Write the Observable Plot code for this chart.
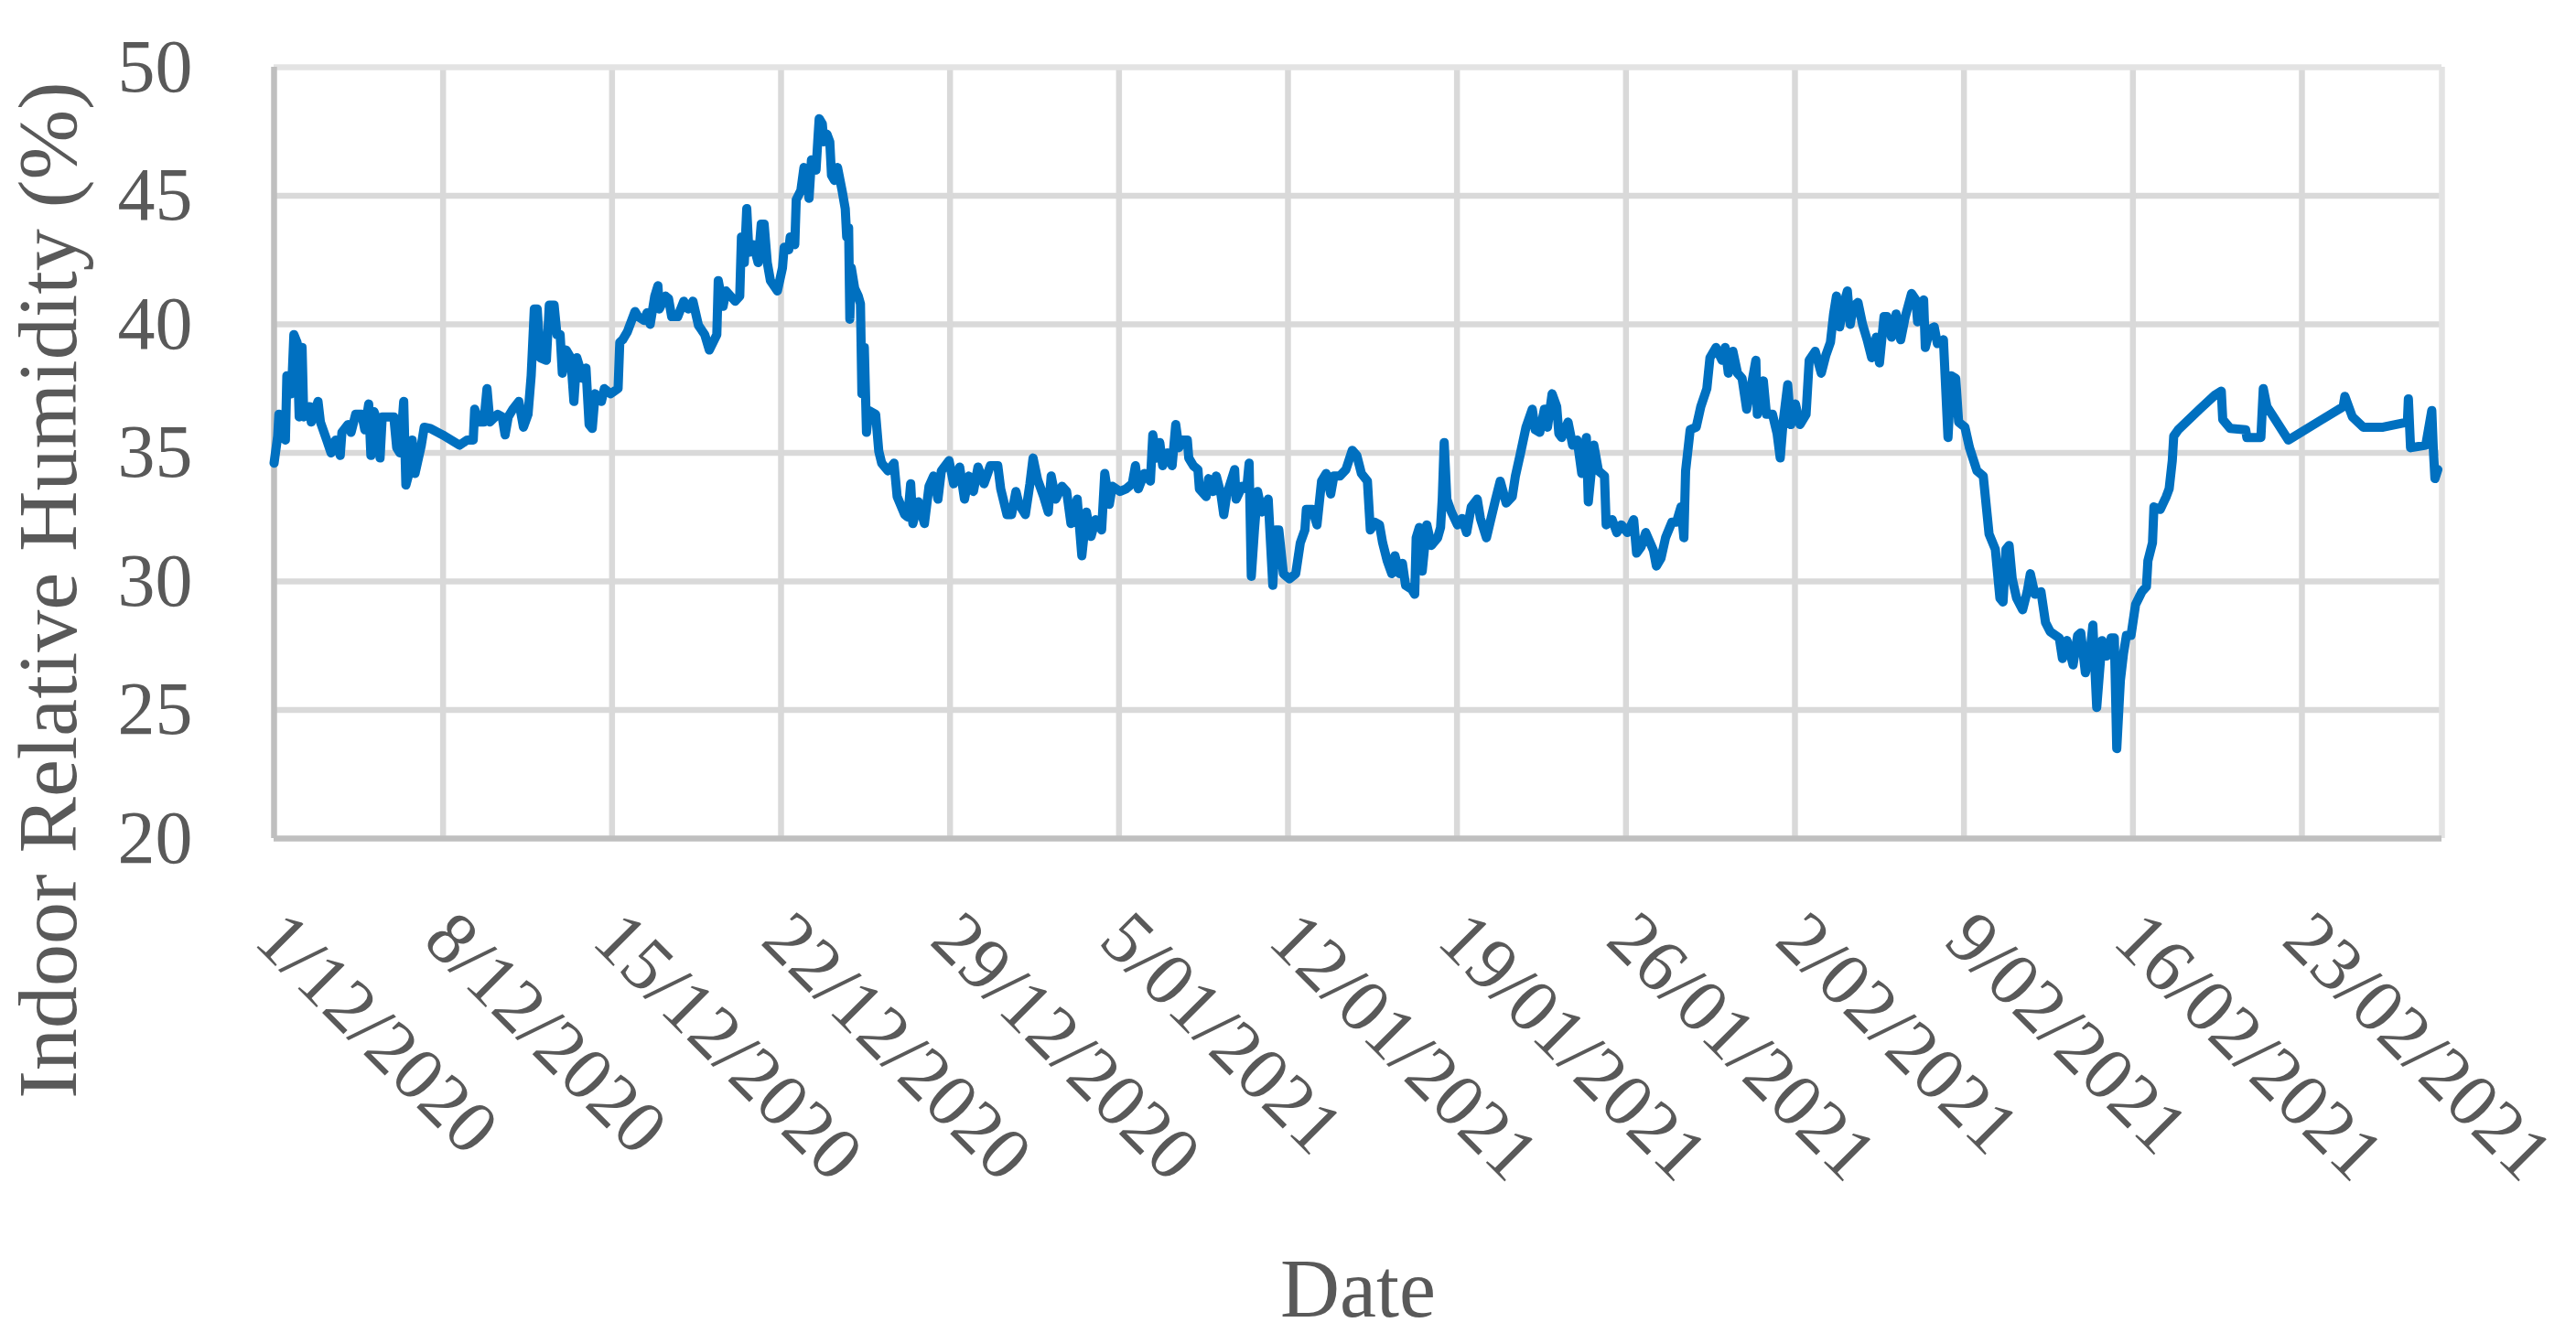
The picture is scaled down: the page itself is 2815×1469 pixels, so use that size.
<!DOCTYPE html>
<html>
<head>
<meta charset="utf-8">
<script src="https://cdn.jsdelivr.net/npm/d3@7"></script>
<script src="https://cdn.jsdelivr.net/npm/@observablehq/plot@0.6"></script>
<style>
  html, body { margin: 0; padding: 0; background: #ffffff; }
  #chart svg { display: block; }
</style>
</head>
<body>
<div id="chart"></div>
<script>
// ---- Data ----
// days elapsed since 1/12/2020 00:00
const dayOffsets = [
  0, 0.15, 0.2, 0.47, 0.53, 0.72, 0.82, 0.95, 1.04, 1.16,
  1.23, 1.48, 1.54, 1.82, 1.92, 2.18, 2.36, 2.55, 2.74, 2.81,
  3.06, 3.19, 3.38, 3.63, 3.76, 3.92, 4.01, 4.14, 4.22, 4.39,
  4.48, 4.83, 4.96, 5.08, 5.21, 5.37, 5.46, 5.59, 5.72, 5.84,
  6.1, 6.22, 6.48, 6.98, 7.68, 8.0, 8.25, 8.31, 8.5, 8.69,
  8.82, 8.94, 9.26, 9.45, 9.57, 9.7, 9.89, 10.14, 10.33, 10.52,
  10.65, 10.78, 10.9, 11.03, 11.28, 11.4, 11.6, 11.72, 11.85, 11.94,
  12.1, 12.29, 12.42, 12.54, 12.8, 12.92, 13.05, 13.18, 13.3, 13.56,
  13.68, 13.94, 14.25, 14.32, 14.44, 14.63, 14.95, 15.08, 15.33, 15.45,
  15.58, 15.77, 15.9, 15.96, 16.21, 16.34, 16.47, 16.72, 16.97, 17.16,
  17.35, 17.58, 17.84, 18.03, 18.34, 18.4, 18.6, 18.72, 19.1, 19.29,
  19.36, 19.48, 19.58, 19.67, 19.86, 20.05, 20.18, 20.3, 20.43, 20.56,
  20.85, 21.06, 21.13, 21.32, 21.38, 21.57, 21.63, 21.82, 21.95, 22.08,
  22.16, 22.26, 22.45, 22.52, 22.58, 22.71, 22.77, 22.9, 23.02, 23.09,
  23.21, 23.34, 23.53, 23.66, 23.72, 23.8, 23.85, 23.91, 24.05, 24.2,
  24.29, 24.35, 24.45, 24.54, 24.63, 24.92, 25.05, 25.17, 25.43, 25.68,
  25.81, 26.12, 26.25, 26.37, 26.46, 26.69, 26.94, 27.13, 27.32, 27.5,
  27.64, 27.96, 28.15, 28.4, 28.6, 28.78, 28.97, 29.16, 29.41, 29.67,
  29.98, 30.1, 30.36, 30.55, 30.73, 30.86, 31.12, 31.31, 31.44, 31.63,
  31.88, 32.07, 32.19, 32.38, 32.64, 32.83, 33.01, 33.27, 33.46, 33.65,
  33.84, 34.03, 34.28, 34.41, 34.6, 34.72, 35.04, 35.29, 35.55, 35.68,
  35.8, 36.05, 36.3, 36.4, 36.56, 36.69, 36.81, 37.0, 37.2, 37.35,
  37.48, 37.64, 37.83, 37.89, 38.08, 38.27, 38.33, 38.61, 38.71, 38.9,
  39.03, 39.22, 39.34, 39.47, 39.79, 39.85, 40.1, 40.29, 40.39, 40.48,
  40.61, 40.74, 40.92, 41.18, 41.37, 41.49, 41.62, 41.81, 42.06, 42.32,
  42.51, 42.7, 42.76, 43.01, 43.2, 43.39, 43.58, 43.77, 43.9, 44.15,
  44.4, 44.66, 44.85, 45.04, 45.29, 45.41, 45.6, 45.79, 45.92, 46.11,
  46.3, 46.43, 46.62, 46.74, 46.87, 47.12, 47.25, 47.31, 47.44, 47.56,
  47.75, 47.94, 48.2, 48.32, 48.39, 48.47, 48.58, 48.77, 49.02, 49.21,
  49.4, 49.59, 49.84, 49.97, 50.22, 50.41, 50.6, 50.79, 51.04, 51.29,
  51.42, 51.61, 51.86, 52.12, 52.24, 52.43, 52.62, 52.75, 52.94, 53.13,
  53.22, 53.34, 53.6, 53.79, 53.98, 54.17, 54.36, 54.44, 54.67, 54.86,
  55.11, 55.18, 55.43, 55.62, 55.81, 56.06, 56.32, 56.44, 56.63, 56.82,
  57.14, 57.26, 57.45, 57.64, 57.9, 58.09, 58.28, 58.4, 58.47, 58.66,
  58.91, 59.1, 59.35, 59.48, 59.73, 59.98, 60.11, 60.24, 60.43, 60.62,
  60.81, 61.0, 61.19, 61.38, 61.44, 61.69, 61.82, 62.07, 62.26, 62.39,
  62.51, 62.7, 62.83, 63.02, 63.21, 63.46, 63.59, 63.84, 64.09, 64.28,
  64.47, 64.6, 64.72, 64.85, 65.04, 65.17, 65.29, 65.42, 65.61, 65.8,
  65.99, 66.18, 66.37, 66.5, 66.69, 66.81, 67.0, 67.19, 67.38, 67.57,
  67.83, 68.01, 68.08, 68.33, 68.4, 68.59, 68.77, 68.9, 69.15, 69.34,
  69.47, 69.66, 69.78, 70.04, 70.23, 70.54, 70.8, 71.04, 71.3, 71.49,
  71.62, 71.74, 71.87, 72.0, 72.18, 72.43, 72.62, 72.75, 72.94, 73.19,
  73.38, 73.57, 73.95, 74.08, 74.27, 74.52, 74.71, 74.84, 75.03, 75.22,
  75.34, 75.5, 75.72, 75.91, 76.1, 76.23, 76.33, 76.48, 76.61, 76.73,
  76.92, 77.11, 77.37, 77.56, 77.62, 77.81, 77.87, 78.13, 78.38, 78.5,
  78.63, 78.69, 78.88, 79.77, 80.4, 80.66, 80.72, 81.03, 81.67, 81.72,
  82.3, 82.4, 82.55, 83.44, 85.71, 85.78, 86.09, 86.54, 87.36, 88.37,
  88.41, 88.5, 89.13, 89.38, 89.44, 89.51, 89.63
];
// indoor relative humidity (%)
const humidity = [
  34.6, 35.65, 36.5, 35.5, 38.0, 37.3, 39.6, 39.3, 36.4, 39.1,
  36.4, 36.8, 36.2, 37.0, 36.2, 35.5, 35.0, 35.5, 34.9, 35.8,
  36.1, 35.8, 36.5, 36.5, 35.9, 36.9, 34.9, 36.6, 36.4, 34.8,
  36.4, 36.4, 36.4, 35.2, 35.0, 37.0, 33.75, 34.2, 35.5, 34.2,
  35.3, 36.0, 35.95, 35.7, 35.3, 35.5, 35.5, 36.7, 36.2, 36.2,
  37.5, 36.2, 36.5, 36.4, 35.7, 36.4, 36.7, 37.0, 36.0, 36.5,
  38.0, 40.6, 40.6, 38.7, 38.6, 40.75, 40.75, 39.6, 39.6, 38.1,
  39.0, 38.7, 37.0, 38.7, 37.9, 38.3, 36.1, 35.95, 37.3, 37.0,
  37.5, 37.3, 37.5, 39.3, 39.4, 39.7, 40.5, 40.3, 40.15, 40.45,
  40.0, 41.1, 41.5, 40.6, 41.1, 41.0, 40.3, 40.3, 40.9, 40.6,
  40.9, 39.96, 39.6, 39.0, 39.6, 41.7, 40.7, 41.3, 40.9, 41.1,
  43.4, 42.4, 44.5, 42.8, 43.1, 42.4, 43.9, 43.9, 42.4, 41.7,
  41.3, 42.2, 43.0, 42.9, 43.4, 43.1, 44.85, 45.2, 46.1, 46.0,
  44.9, 46.4, 46.0, 47.1, 48.0, 47.8, 47.1, 47.4, 47.1, 45.8,
  45.6, 46.1, 45.2, 44.5, 43.4, 43.75, 40.2, 42.2, 41.4, 41.1,
  40.8, 37.3, 39.1, 35.8, 36.65, 36.5, 35.06, 34.6, 34.3, 34.6,
  33.3, 32.6, 32.5, 33.8, 32.25, 33.1, 32.25, 33.7, 34.1, 33.2,
  34.3, 34.7, 33.8, 34.45, 33.2, 34.1, 33.5, 34.45, 33.8, 34.5,
  34.5, 33.6, 32.6, 32.6, 33.5, 33.0, 32.6, 33.8, 34.8, 33.95,
  33.3, 32.7, 34.1, 33.2, 33.7, 33.5, 32.25, 33.2, 31.0, 32.7,
  31.75, 32.4, 32.0, 34.2, 33.0, 33.7, 33.5, 33.6, 33.8, 34.5,
  33.6, 34.2, 33.9, 35.7, 34.8, 35.4, 34.5, 35.0, 34.5, 36.1,
  35.2, 35.5, 35.5, 34.8, 34.5, 34.35, 33.6, 33.3, 34.0, 33.5,
  34.1, 33.4, 32.6, 33.4, 34.35, 33.2, 33.7, 33.6, 34.6, 30.2,
  32.0, 33.5, 32.7, 33.2, 29.85, 32.0, 32.0, 30.3, 30.1, 30.3,
  31.5, 32.0, 32.8, 32.8, 32.2, 33.9, 34.2, 33.4, 34.1, 34.1,
  34.35, 35.1, 34.9, 34.2, 33.9, 32.0, 32.3, 32.2, 31.5, 30.8,
  30.3, 31.0, 30.3, 30.7, 29.85, 29.7, 29.5, 31.7, 32.1, 30.4,
  32.2, 31.4, 31.7, 32.1, 33.2, 35.4, 33.2, 32.7, 32.2, 32.45,
  31.9, 32.9, 33.2, 32.45, 31.7, 32.45, 33.2, 33.9, 33.05, 33.3,
  34.1, 34.9, 36.0, 36.7, 35.9, 35.8, 36.7, 36.0, 37.3, 36.8,
  35.75, 35.6, 36.2, 35.3, 35.5, 34.2, 35.6, 33.1, 35.3, 34.3,
  34.1, 32.2, 32.4, 31.9, 32.2, 31.9, 32.4, 31.1, 31.35, 31.9,
  31.2, 30.6, 30.9, 31.7, 32.3, 32.3, 32.9, 31.7, 34.3, 35.9,
  36.0, 36.8, 37.5, 38.7, 39.1, 38.6, 39.1, 38.1, 38.95, 38.1,
  37.9, 36.7, 37.6, 38.6, 36.5, 37.8, 36.5, 36.5, 35.75, 34.8,
  36.2, 37.65, 36.1, 36.9, 36.1, 36.5, 38.6, 38.95, 38.1, 38.8,
  39.3, 40.4, 41.1, 39.9, 40.85, 41.3, 40.0, 40.7, 40.85, 40.0,
  39.4, 38.7, 39.5, 38.5, 40.3, 40.3, 39.5, 40.4, 39.4, 40.3,
  41.2, 40.95, 40.1, 40.95, 39.1, 39.8, 39.9, 39.25, 39.4, 35.6,
  38.0, 37.9, 36.2, 36.0, 35.2, 34.3, 34.1, 31.85, 31.25, 29.35,
  29.2, 31.25, 31.4, 30.1, 29.35, 28.9, 29.6, 30.3, 29.5, 29.6,
  28.4, 28.05, 27.8, 27.0, 27.7, 26.75, 27.9, 28.0, 26.45, 27.2,
  28.3, 25.1, 27.7, 27.1, 27.8, 27.8, 23.5, 26.15, 27.2, 27.9,
  27.9, 29.1, 29.6, 29.8, 30.8, 31.5, 32.9, 32.8, 33.3, 33.6,
  34.7, 35.65, 35.9, 36.7, 37.25, 37.4, 36.3, 35.95, 35.9, 35.6,
  35.6, 37.5, 36.8, 35.5, 36.8, 37.2, 36.4, 36.0, 36.0, 36.2,
  37.1, 35.2, 35.3, 36.65, 35.2, 34.0, 34.35
];
const xTickLabels = [
  "1/12/2020", "8/12/2020", "15/12/2020", "22/12/2020", "29/12/2020",
  "5/01/2021", "12/01/2021", "19/01/2021", "26/01/2021", "2/02/2021",
  "9/02/2021", "16/02/2021", "23/02/2021"
];
const yTicks = [20, 25, 30, 35, 40, 45, 50];
const xAxisEnd = "2021-02-28T19:12:00Z";
const xTitle = "Date";
const yTitle = "Indoor Relative Humidity (%)";

// ---- Build tables ----
const parseLabel = (s) => {
  const [d, m, y] = s.split("/").map(Number);
  return new Date(Date.UTC(y, m - 1, d));
};
const xTicks = xTickLabels.map((label) => ({label, date: parseLabel(label)}));
const start = xTicks[0].date;
const DAY = 86400000;
const series = dayOffsets.map((d, i) => ({
  date: new Date(start.getTime() + d * DAY),
  value: humidity[i]
}));
const innerX = xTicks.slice(1).map((t) => t.date);
const innerY = yTicks.slice(1, -1);

const FONT = "'Liberation Serif', 'Times New Roman', serif";
const TEXT = "#595959";
const GRID = "#d9d9d9";
const AXIS = "#bfbfbf";
const EDGE = "#e3e3e3";

const chart = Plot.plot({
  width: 2815,
  height: 1469,
  marginLeft: 299,
  marginRight: 147,
  marginTop: 73,
  marginBottom: 553,
  style: {background: "#ffffff", fontFamily: FONT, overflow: "visible"},
  x: {type: "utc", domain: [start, new Date(xAxisEnd)], axis: null},
  y: {domain: [20, 50], axis: null},
  marks: [
    // gridlines
    Plot.ruleY(innerY, {stroke: GRID, strokeWidth: 6.5}),
    Plot.ruleX(innerX, {stroke: GRID, strokeWidth: 6.5}),
    // plot-area borders
    Plot.ruleY([50], {stroke: EDGE, strokeWidth: 6.5}),
    Plot.ruleX([new Date(xAxisEnd)], {stroke: EDGE, strokeWidth: 6.5}),
    Plot.ruleX([start], {stroke: AXIS, strokeWidth: 6.5}),
    Plot.ruleY([20], {stroke: AXIS, strokeWidth: 6.5}),
    // the series
    Plot.line(series, {
      x: "date", y: "value",
      stroke: "#0070c0", strokeWidth: 10,
      strokeLinejoin: "round", strokeLinecap: "round"
    }),
    // y tick labels
    Plot.text(yTicks, {
      y: (d) => d, frameAnchor: "left", text: (d) => String(d),
      textAnchor: "end", dx: -89, fontSize: 82, fill: TEXT, fontFamily: FONT
    }),
    // x tick labels (rotated)
    Plot.text(xTicks, {
      x: "date", frameAnchor: "bottom", text: "label",
      rotate: 45, textAnchor: "start", dx: -24, dy: 114,
      fontSize: 82, fill: TEXT, fontFamily: FONT
    }),
    // axis titles
    Plot.text([xTitle], {
      frameAnchor: "bottom", text: (d) => d, textAnchor: "middle", dy: 522,
      fontSize: 90, fill: TEXT, fontFamily: FONT
    }),
    Plot.text([yTitle], {
      frameAnchor: "left", text: (d) => d, rotate: -90, textAnchor: "middle",
      dx: -246, dy: 150, fontSize: 92, fill: TEXT, fontFamily: FONT
    })
  ]
});
document.getElementById("chart").appendChild(chart);
</script>
</body>
</html>
